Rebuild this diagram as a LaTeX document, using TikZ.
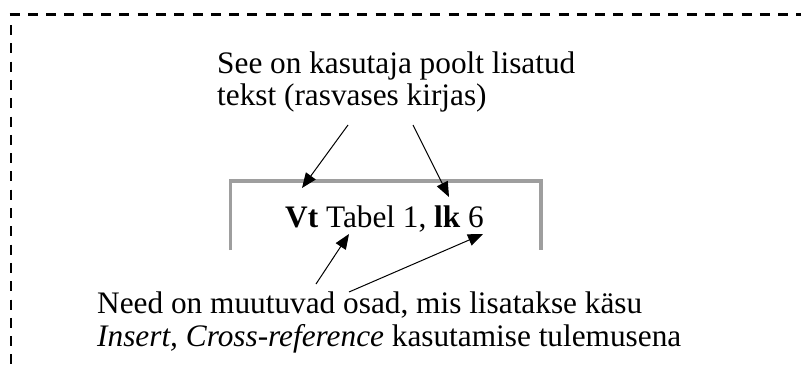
\documentclass[tikz,border=0pt]{standalone}
\usepackage{fontspec}
\setmainfont{Liberation Serif}
\usetikzlibrary{arrows.meta}
\begin{document}
\begin{tikzpicture}[x=1pt,y=-1pt,
  txt/.style={inner sep=0pt,anchor=base west,font=\fontsize{31.3}{35}\selectfont},
  arr/.style={line width=1pt,-{Triangle[length=15pt,width=12pt]}},
  frame/.style={line width=2.8pt,dash pattern=on 10pt off 8.3pt},
  boxline/.style={line width=3.5pt,draw=black!38}]
\useasboundingbox (0,0) rectangle (801,372);
\draw[frame] (9.5,14.5) -- (801,14.5);
\draw[frame] (11,25) -- (11,372);
\draw[boxline] (230.5,250) -- (230.5,181) -- (541,181) -- (541,250);
\node[txt] (top1) at (217,73) {See on kasutaja poolt lisatud};
\node[txt] (top2) at (217,105) {tekst (rasvases kirjas)};
\node[txt] (mid) at (285,227) {\textbf{Vt} Tabel 1, \textbf{lk} 6};
\node[txt] (bot1) at (97,313) {Need on muutuvad osad, mis lisatakse käsu};
\node[txt] (bot2) at (97,346) {\textit{Insert, Cross-reference} kasutamise tulemusena};
\coordinate (a1s) at (348,125); \coordinate (a1e) at (302,188);
\coordinate (a2s) at (413,125); \coordinate (a2e) at (449,197);
\coordinate (a3s) at (316,284); \coordinate (a3e) at (349,234);
\coordinate (a4s) at (349,292); \coordinate (a4e) at (483,234);
\draw[arr] (a1s) -- (a1e);
\draw[arr] (a2s) -- (a2e);
\draw[arr] (a3s) -- (a3e);
\draw[arr] (a4s) -- (a4e);
\end{tikzpicture}
\end{document}
